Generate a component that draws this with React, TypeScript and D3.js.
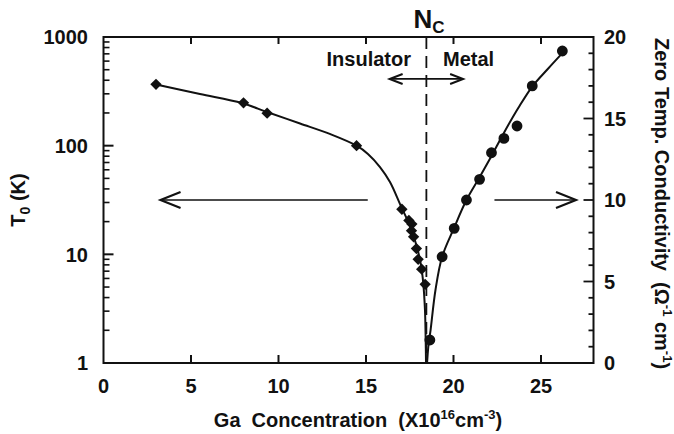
import React from 'react';
import * as d3 from 'd3';

// insulating side: T0 (K) vs Ga concentration (x10^16 cm^-3), left log axis
const insN = [3.0, 8.0, 9.35, 14.46, 17.05, 17.45, 17.62, 17.6, 17.72, 17.88, 17.98, 18.18, 18.38];
const insT0 = [367, 248, 199, 100, 26, 20.5, 19, 16.5, 14.5, 11.3, 9.0, 7.3, 5.3];

// metallic side: zero temp. conductivity, right linear axis
const metN = [18.65, 19.35, 20.04, 20.74, 21.49, 22.17, 22.88, 23.63, 24.5, 26.22];
const metSigma = [1.41, 6.52, 8.26, 10.0, 11.27, 12.9, 13.78, 14.54, 17.0, 19.14];

// fitted curves
const insFitN = [2.94, 5.51, 7.91, 9.34, 11.23, 13.0, 14.46, 15.11, 15.8, 16.37, 16.97, 17.54, 17.91, 18.14, 18.27, 18.37, 18.41, 18.43];
const insFitT0 = [367, 299, 247, 204, 160, 127, 100, 84, 63.6, 46.3, 28.4, 17.8, 11.7, 8.0, 5.47, 3.07, 1.63, 1.0];
const metFitN = [18.49, 18.57, 18.69, 18.97, 19.35, 20.02, 20.74, 21.49, 22.17, 22.87, 23.7, 24.5, 25.4, 26.3];
const metFitSigma = [0, 1.1, 2.02, 4.48, 6.52, 8.26, 10.0, 11.4, 12.7, 14.1, 15.64, 16.96, 18.05, 19.1];

const nc = 18.45;
const xTicks = [0, 5, 10, 15, 20, 25];
const leftTicks = [1, 10, 100, 1000];
const rightTicks = [0, 5, 10, 15, 20];

// annotation arrows, in data units (x from, x to)
const leftArrow = [15.1, 3.26];
const rightArrow = [22.34, 27.0];
const transArrow = [16.35, 20.55];

const W = 674;
const H = 434;
const ink = '#111';
const font = '"Liberation Sans", Arial, Helvetica, sans-serif';

const x = d3.scaleLinear().domain([0, 28]).range([103.5, 593.5]);
const yL = d3.scaleLog().domain([1, 1000]).range([363, 37]);
const yR = d3.scaleLinear().domain([0, 20]).range([363, 37]);

const App = () => {
  const [x0, x1] = x.range();
  const [yb, yt] = yR.range();

  const insLine = d3
    .line<number>()
    .x((d) => x(insFitN[d]))
    .y((d) => yL(insFitT0[d]))
    .curve(d3.curveCatmullRom.alpha(0.5));
  const metLine = d3
    .line<number>()
    .x((d) => x(metFitN[d]))
    .y((d) => yR(metFitSigma[d]))
    .curve(d3.curveCatmullRom.alpha(0.5));

  const diamond = d3.symbol(d3.symbolSquare, 64)();
  const dot = d3.symbol(d3.symbolCircle, 92)();

  const minorLeft: number[] = [];
  [1, 10, 100].forEach((dec) => {
    for (let k = 2; k <= 9; k++) minorLeft.push(dec * k);
  });
  const rightMinor = d3.range(0, 21);

  const arrowHead = (tx: number, ty: number, dir: number, len: number, half: number) =>
    `M${tx - dir * len},${ty - half}L${tx},${ty}L${tx - dir * len},${ty + half}`;

  const ay = yR(10);
  const ty = yL(411);

  return (
    <svg width={W} height={H} style={{ position: 'absolute', left: 0, top: 0, background: '#fff' }}>
      <rect width={W} height={H} fill="#fff" />

      {/* frame */}
      <rect x={x0} y={yt} width={x1 - x0} height={yb - yt} fill="none" stroke={ink} strokeWidth={2} />

      {/* left ticks */}
      {leftTicks.map((v) => (
        <line key={'lt' + v} x1={x0} x2={x0 + 10} y1={yL(v)} y2={yL(v)} stroke={ink} strokeWidth={2} />
      ))}
      {minorLeft.map((v) => (
        <line key={'lm' + v} x1={x0} x2={x0 + 6} y1={yL(v)} y2={yL(v)} stroke={ink} strokeWidth={1.6} />
      ))}
      {leftTicks.map((v) => (
        <text key={'ll' + v} x={88} y={yL(v)} dy="0.36em" textAnchor="end" fontFamily={font} fontWeight="bold" fontSize={20} fill={ink}>
          {v}
        </text>
      ))}

      {/* right ticks */}
      {rightMinor.map((v) => (
        <line key={'rt' + v} x1={x1} x2={x1 - (v % 5 === 0 ? 10 : 5)} y1={yR(v)} y2={yR(v)} stroke={ink} strokeWidth={1.8} />
      ))}
      {rightTicks.map((v) => (
        <text key={'rl' + v} x={604} y={yR(v)} dy="0.36em" textAnchor="start" fontFamily={font} fontWeight="bold" fontSize={20} fill={ink}>
          {v}
        </text>
      ))}

      {/* bottom / top ticks */}
      {xTicks.slice(1).map((v) => (
        <g key={'xt' + v}>
          <line x1={x(v)} x2={x(v)} y1={yb} y2={yb - 8} stroke={ink} strokeWidth={2} />
          <line x1={x(v)} x2={x(v)} y1={yt} y2={yt + 7} stroke={ink} strokeWidth={2} />
        </g>
      ))}
      {xTicks.map((v) => (
        <text key={'xl' + v} x={x(v)} y={393} textAnchor="middle" fontFamily={font} fontWeight="bold" fontSize={20} fill={ink}>
          {v}
        </text>
      ))}

      {/* critical concentration */}
      <line x1={x(nc)} x2={x(nc)} y1={yt} y2={yb} stroke={ink} strokeWidth={1.8} strokeDasharray="12,7" />
      <text x={x(nc) - 13} y={28} fontFamily={font} fontWeight="bold" fontSize={26} fill={ink}>
        N
        <tspan dy={5} fontSize={17}>C</tspan>
      </text>
      <text x={411} y={66} textAnchor="end" fontFamily={font} fontWeight="bold" fontSize={20} fill={ink}>
        Insulator
      </text>
      <text x={443} y={66} textAnchor="start" fontFamily={font} fontWeight="bold" fontSize={20} fill={ink}>
        Metal
      </text>

      {/* arrows */}
      <g fill="none" stroke={ink} strokeWidth={1.7}>
        <line x1={x(leftArrow[0])} x2={x(leftArrow[1])} y1={ay} y2={ay} />
        <path d={arrowHead(x(leftArrow[1]), ay, -1, 20, 8)} strokeWidth={2.2} />
        <line x1={x(rightArrow[0])} x2={x(rightArrow[1])} y1={ay} y2={ay} />
        <path d={arrowHead(x(rightArrow[1]), ay, 1, 20, 8)} strokeWidth={2.2} />
        <line x1={x(transArrow[0])} x2={x(transArrow[1])} y1={ty} y2={ty} />
        <path d={arrowHead(x(transArrow[0]), ty, -1, 13, 5)} strokeWidth={2} />
        <path d={arrowHead(x(transArrow[1]), ty, 1, 13, 5)} strokeWidth={2} />
      </g>

      {/* fitted curves */}
      <path d={insLine(d3.range(insFitN.length)) ?? ''} fill="none" stroke={ink} strokeWidth={2} />
      <path d={metLine(d3.range(metFitN.length)) ?? ''} fill="none" stroke={ink} strokeWidth={2} />

      {/* data points */}
      {insN.map((n, i) => (
        <path key={'d' + i} d={diamond ?? ''} transform={`translate(${x(n)},${yL(insT0[i])}) rotate(45)`} fill={ink} />
      ))}
      {metN.map((n, i) => (
        <path key={'c' + i} d={dot ?? ''} transform={`translate(${x(n)},${yR(metSigma[i])})`} fill={ink} />
      ))}

      {/* axis titles */}
      <text x={358} y={427} textAnchor="middle" fontFamily={font} fontWeight="bold" fontSize={20} fill={ink} style={{ whiteSpace: 'pre' }}>
        {'Ga  Concentration  (X10'}
        <tspan dy={-8} fontSize={13}>16</tspan>
        <tspan dy={8}>cm</tspan>
        <tspan dy={-8} fontSize={13}>-3</tspan>
        <tspan dy={8}>)</tspan>
      </text>
      <text transform="translate(25,200) rotate(-90)" textAnchor="middle" fontFamily={font} fontWeight="bold" fontSize={20} fill={ink} style={{ whiteSpace: 'pre' }}>
        T<tspan dy={5} fontSize={14}>0</tspan>
        <tspan dy={-5}>{' (K)'}</tspan>
      </text>
      <text transform="translate(654.5,38) rotate(90)" textAnchor="start" fontFamily={font} fontWeight="bold" fontSize={20} fill={ink} style={{ whiteSpace: 'pre' }}>
        {'Zero Temp. Conductivity  (Ω'}
        <tspan dy={-8} fontSize={13}>-1</tspan>
        <tspan dy={8}>{' cm'}</tspan>
        <tspan dy={-8} fontSize={13}>-1</tspan>
        <tspan dy={8}>)</tspan>
      </text>
    </svg>
  );
};

export default App;
